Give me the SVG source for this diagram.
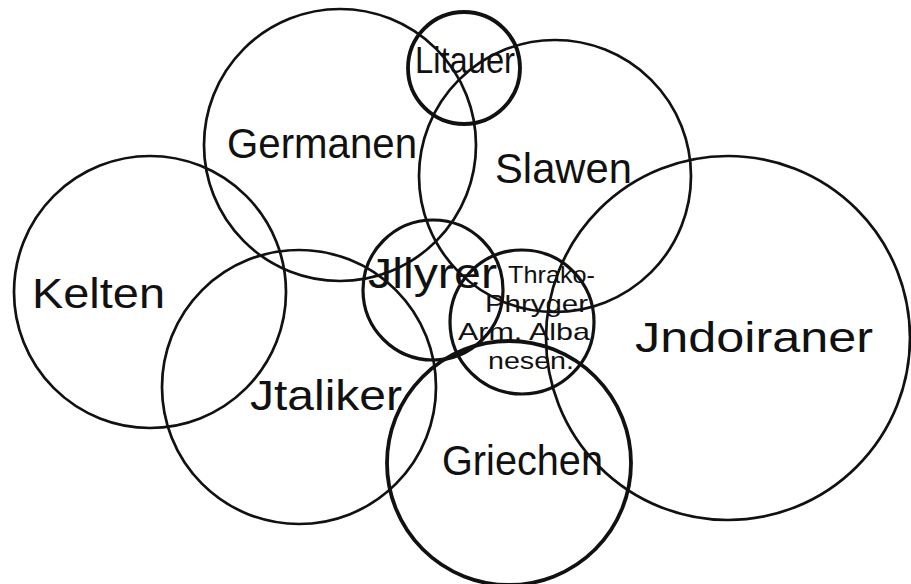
<svg xmlns="http://www.w3.org/2000/svg" width="911" height="584" viewBox="0 0 911 584">
<style>
.c{fill:none;stroke:#111;stroke-width:2.7}
.t{stroke-width:3.8}
.m{stroke-width:3.2}
text{font-family:"Liberation Sans","DejaVu Sans",sans-serif;fill:#111}
.big{font-size:42px}
.sm{font-size:24px}
</style>
<rect width="911" height="584" fill="#fff"/>
<g id="connectors"/>
<g id="germanen"><circle class="c" cx="340" cy="145" r="136"/><text class="big" x="227" y="158" textLength="190" lengthAdjust="spacingAndGlyphs">Germanen</text></g>
<g id="slawen"><circle class="c" cx="555" cy="176" r="136"/><text class="big" x="495" y="183" textLength="137" lengthAdjust="spacingAndGlyphs">Slawen</text></g>
<g id="kelten"><circle class="c" cx="150" cy="292" r="136"/><text class="big" x="32" y="308" textLength="133" lengthAdjust="spacingAndGlyphs">Kelten</text></g>
<g id="italiker"><circle class="c" cx="299" cy="387" r="137"/><text class="big" x="250" y="410" textLength="152" lengthAdjust="spacingAndGlyphs">Jtaliker</text></g>
<g id="indoiraner"><circle class="c" cx="728" cy="338" r="182"/><text class="big" x="635" y="352" textLength="238" lengthAdjust="spacingAndGlyphs">Jndoiraner</text></g>
<g id="litauer"><circle class="c t" cx="464" cy="68" r="56"/><text style="font-size:36px" x="415" y="73" textLength="100" lengthAdjust="spacingAndGlyphs">Litauer</text></g>
<g id="illyrer"><circle class="c m" cx="433" cy="290" r="70"/><text class="big" x="368" y="288" textLength="129" lengthAdjust="spacingAndGlyphs">Jllyrer</text></g>
<g id="thraker"><circle class="c m" cx="522" cy="322" r="72"/>
<text class="sm" x="508" y="283" textLength="87" lengthAdjust="spacingAndGlyphs">Thrako-</text>
<text class="sm" x="485" y="312" textLength="103" lengthAdjust="spacingAndGlyphs">Phryger</text>
<text class="sm" x="458" y="340" textLength="132" lengthAdjust="spacingAndGlyphs">Arm. Alba</text>
<text class="sm" x="488" y="369" textLength="86" lengthAdjust="spacingAndGlyphs">nesen.</text></g>
<g id="griechen"><circle class="c t" cx="509" cy="463" r="122"/><text class="big" x="442" y="475" textLength="161" lengthAdjust="spacingAndGlyphs">Griechen</text></g>
</svg>
